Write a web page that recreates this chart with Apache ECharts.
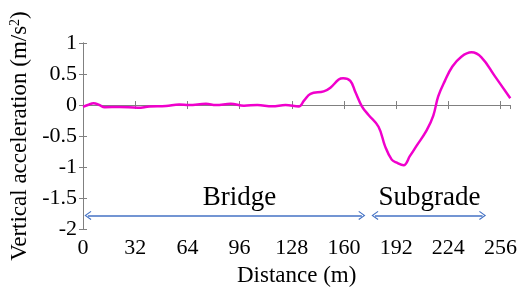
<!DOCTYPE html>
<html>
<head>
<meta charset="utf-8">
<script src="https://cdn.jsdelivr.net/npm/echarts@6/dist/echarts.min.js"></script>
</head>
<body style="margin:0;background:#fff">
<div id="chart" style="width:520px;height:292px"></div>
<script>
// distance (m) and vertical acceleration (m/s^2)
const distance = [0, 3, 6.5, 10, 13.3, 22.4, 33.6, 40.7, 50.9, 59, 65, 75.4, 81.5, 90.6, 98.7, 106.9, 116, 124.2, 132.3, 135.5, 139.5, 147.6, 151.7, 156.8, 159.5, 163.9, 167, 171, 175.1, 181.2, 185.3, 189.3, 192.4, 196.6, 200.5, 204.6, 210.7, 214.8, 217.8, 221.9, 226.5, 232, 238.2, 244.3, 252.4, 262]
const accel = [-0.03, 0.0, 0.03, 0.0, -0.035, -0.03, -0.045, -0.025, -0.015, 0.01, 0.0, 0.02, 0.0, 0.02, -0.01, 0.0, -0.02, 0.0, -0.025, 0.07, 0.18, 0.22, 0.28, 0.41, 0.43, 0.39, 0.21, -0.02, -0.16, -0.35, -0.67, -0.88, -0.93, -0.97, -0.82, -0.655, -0.41, -0.17, 0.14, 0.39, 0.62, 0.78, 0.85, 0.77, 0.47, 0.11]
const xTicks = {min: 0, max: 262, interval: 32}
const yTicks = {min: -2, max: 1, interval: 0.5}
// annotation spans
const bridgeSpan = [3, 171]
const subgradeSpan = [179, 245]
const arrowLevel = -1.78
const regionLabels = [
  {name: 'Bridge', coord: [96, -1.5]},
  {name: 'Subgrade', coord: [212.5, -1.5]}
]

const axisColor = '#808080'
const arrowPath = 'path://M5,0 L10,9 L9,10 L5,2.6 L1,10 L0,9 Z'

const mychart = echarts.init(document.getElementById('chart'))

const frameAxis = (ticks) => ({
  type: 'value',
  min: ticks.min,
  max: ticks.max,
  interval: ticks.interval,
  axisLine: {show: true, lineStyle: {color: axisColor, width: 1}},
  axisTick: {show: true, inside: true, length: 4, lineStyle: {color: axisColor}},
  splitLine: {show: false}
})

const option = {
  textStyle: {fontFamily: 'serif'},
  grid: {left: 83, right: 8, top: 43, bottom: 56},
  xAxis: [
    Object.assign(frameAxis(xTicks), {
      position: 'bottom',
      name: 'Distance (m)',
      nameLocation: 'middle',
      nameGap: 34,
      nameTextStyle: {fontFamily: 'Times New Roman', fontSize: 23, color: '#000'},
      axisLabel: {fontFamily: 'serif', fontSize: 22, color: '#000', margin: 8, showMaxLabel: false}
    }),
    Object.assign(frameAxis(xTicks), {position: 'top', axisLabel: {show: false}})
  ],
  yAxis: [
    Object.assign(frameAxis(yTicks), {
      position: 'left',
      name: 'Vertical acceleration (m/s{sup|2})',
      nameLocation: 'middle',
      nameGap: 44,
      nameTextStyle: {
        fontFamily: 'Times New Roman', fontSize: 23, color: '#000',
        rich: {sup: {fontFamily: 'Times New Roman', fontSize: 14, color: '#000', verticalAlign: 'top'}}
      },
      axisLabel: {fontFamily: 'serif', fontSize: 22, color: '#000', margin: 6}
    }),
    Object.assign(frameAxis(yTicks), {position: 'right', axisLabel: {show: false}})
  ],
  series: [{
    type: 'line',
    data: distance.map((d, i) => [d, accel[i]]),
    smooth: 0.4,
    showSymbol: false,
    lineStyle: {color: '#F000CC', width: 2.5},
    markLine: {
      silent: true,
      symbol: [arrowPath, arrowPath],
      symbolSize: [9, 7],
      label: {show: false},
      lineStyle: {color: '#4472C4', width: 1.5, type: 'solid'},
      data: [
        [{coord: [bridgeSpan[0], arrowLevel]}, {coord: [bridgeSpan[1], arrowLevel]}],
        [{coord: [subgradeSpan[0], arrowLevel]}, {coord: [subgradeSpan[1], arrowLevel]}]
      ]
    },
    markPoint: {
      silent: true,
      symbol: 'circle',
      symbolSize: 0,
      label: {show: true, position: 'inside', formatter: '{b}', fontFamily: '"Liberation Serif", serif', fontSize: 27, color: '#000'},
      data: regionLabels
    }
  }]
}
mychart.setOption(option)
</script>
</body>
</html>
